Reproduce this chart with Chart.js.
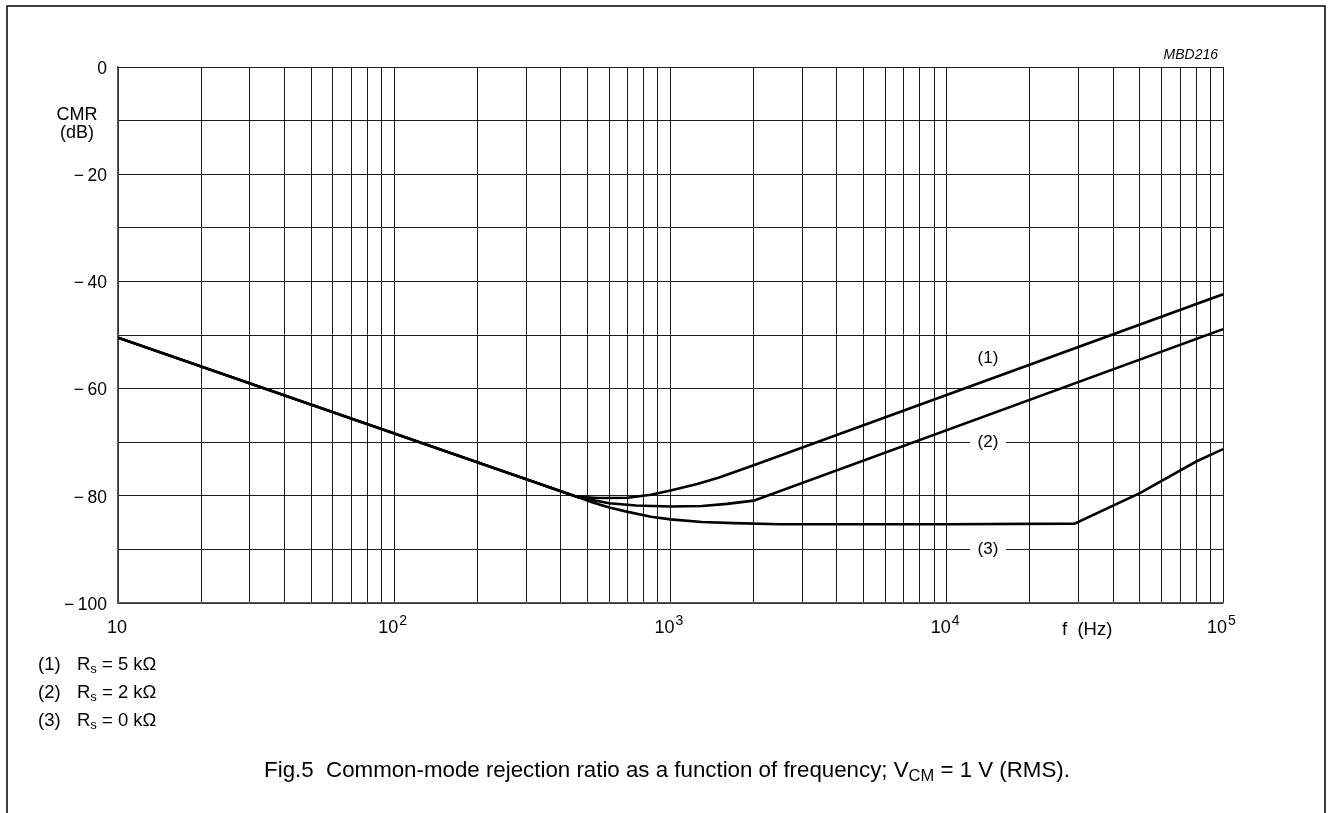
<!DOCTYPE html>
<html>
<head>
<meta charset="utf-8">
<script src="https://cdn.jsdelivr.net/npm/chart.js@4.4.1/dist/chart.umd.min.js"></script>
<style>
  html, body { margin: 0; padding: 0; background: #fff; }
  #chart { display: block; }
</style>
</head>
<body>
<canvas id="chart" width="1329" height="813"></canvas>
<script>
// values: f in Hz, CMR in dB
const freq1 = [10, 460, 550, 700, 850, 1000, 1250, 1500, 2000, 100000];
const cmr1 = [-50.5, -80.2, -80.4, -80.35, -79.8, -79.0, -77.8, -76.6, -74.3, -42.4];

const freq2 = [10, 460, 520, 600, 750, 1000, 1300, 1600, 2000, 100000];
const cmr2 = [-50.5, -80.2, -80.8, -81.4, -81.8, -82.0, -81.9, -81.5, -80.9, -48.9];

const freq3 = [10, 460, 520, 600, 700, 850, 1000, 1300, 1700, 2500, 10000, 29000, 50000, 80000, 100000];
const cmr3 = [-50.5, -80.2, -81.2, -82.2, -83.0, -83.9, -84.4, -84.9, -85.1, -85.3, -85.3, -85.2, -79.5, -73.6, -71.3];

const decades = [10, 100, 1000, 10000, 100000];
const multipliers = [1, 2, 3, 4, 5, 6, 7, 8, 9];
const curveNames = ['(1)', '(2)', '(3)'];
const notes = ['5', '2', '0'];

const FONT = '"Liberation Sans", Arial, Helvetica, sans-serif';

function points(fs, vs) {
    return fs.map((f, i) => ({ x: f, y: vs[i] }));
}

// grid values: every 1..9 times each decade, plus the last decade
const gridValues = [];
decades.slice(0, -1).forEach(d => multipliers.forEach(m => gridValues.push(d * m)));
gridValues.push(decades[decades.length - 1]);

function lineSet(fs, vs) {
    return {
        data: points(fs, vs),
        showLine: true,
        borderColor: '#000',
        borderWidth: 2.6,
        pointRadius: 0,
        tension: 0,
        fill: false
    };
}

const textPlugin = {
    id: 'figText',
    afterDraw(chart) {
        const ctx = chart.ctx;
        const xs = chart.scales.x;
        const ys = chart.scales.y;
        ctx.save();
        ctx.fillStyle = '#000';
        ctx.strokeStyle = '#000';

        // frame
        ctx.lineWidth = 1.5;
        ctx.beginPath();
        ctx.moveTo(7, 813);
        ctx.lineTo(7, 6);
        ctx.lineTo(1325, 6);
        ctx.lineTo(1325, 813);
        ctx.stroke();

        // code
        ctx.font = 'italic 14px ' + FONT;
        ctx.textAlign = 'right';
        ctx.textBaseline = 'middle';
        ctx.fillText('MBD216', 1218, 55);

        // y labels
        ctx.font = '17.5px ' + FONT;
        ctx.textAlign = 'right';
        ys.ticks.forEach(t => {
            if (t.value % 20 !== 0) return;
            const y = ys.getPixelForValue(t.value);
            const txt = t.value === 0 ? '0' : '\u2212\u2009' + Math.abs(t.value);
            ctx.fillText(txt, 107, y + 2);
        });
        ctx.font = '18px ' + FONT;
        ctx.textAlign = 'center';
        ctx.fillText('CMR', 77, 115);
        ctx.fillText('(dB)', 77, 133);

        // x labels
        decades.forEach((d, i) => {
            const x = xs.getPixelForValue(d);
            if (i === 0) {
                ctx.font = '18px ' + FONT;
                ctx.textAlign = 'center';
                ctx.fillText('10', x - 1, 628);
                return;
            }
            ctx.font = '18px ' + FONT;
            ctx.textAlign = 'right';
            ctx.fillText('10', x + 4, 628);
            ctx.font = '14px ' + FONT;
            ctx.textAlign = 'left';
            ctx.fillText(String(Math.round(Math.log10(d))), x + 5, 621);
        });
        ctx.font = '18.5px ' + FONT;
        ctx.textAlign = 'left';
        ctx.fillText('f  (Hz)', 1062, 630);

        // curve labels
        ctx.font = '17px ' + FONT;
        const lx = xs.getPixelForValue(14100);
        const labelY = [-54.3, -70, -90];
        labelY.forEach((v, i) => {
            const y = ys.getPixelForValue(v);
            if (i > 0) {
                ctx.fillStyle = '#fff';
                ctx.fillRect(lx - 18, y - 3, 36, 6);
                ctx.fillStyle = '#000';
            }
            ctx.textAlign = 'center';
            ctx.fillText(curveNames[i], lx, y);
        });

        // notes
        notes.forEach((n, i) => {
            const y = 665 + i * 28;
            ctx.font = '18.5px ' + FONT;
            ctx.textAlign = 'left';
            ctx.fillText('(' + (i + 1) + ')', 38, y);
            ctx.fillText('R', 77, y);
            let x = 77 + ctx.measureText('R').width;
            ctx.font = '13px ' + FONT;
            ctx.fillText('s', x, y + 4);
            x += ctx.measureText('s').width;
            ctx.font = '18.5px ' + FONT;
            ctx.fillText(' = ' + n + ' k\u03A9', x, y);
        });

        // caption
        const parts = [
            ['Fig.5  Common-mode rejection ratio as a function of frequency; V', 22.3, 0],
            ['CM', 16.5, 5],
            [' = 1 V (RMS).', 22.3, 0]
        ];
        let total = 0;
        parts.forEach(p => { ctx.font = p[1] + 'px ' + FONT; total += ctx.measureText(p[0]).width; });
        let cx = 667 - total / 2;
        ctx.textAlign = 'left';
        parts.forEach(p => {
            ctx.font = p[1] + 'px ' + FONT;
            ctx.fillText(p[0], cx, 771 + p[2]);
            cx += ctx.measureText(p[0]).width;
        });
        ctx.restore();
    }
};

new Chart('chart', {
    type: 'scatter',
    data: {
        datasets: [lineSet(freq1, cmr1), lineSet(freq2, cmr2), lineSet(freq3, cmr3)]
    },
    options: {
        responsive: false,
        animation: false,
        devicePixelRatio: 1,
        layout: { padding: { top: 67, right: 106, left: 0, bottom: 0 } },
        plugins: { legend: { display: false }, tooltip: { enabled: false } },
        scales: {
            x: {
                type: 'logarithmic',
                min: 10,
                max: 100000,
                afterBuildTicks: scale => { scale.ticks = gridValues.map(v => ({ value: v })); },
                afterFit: scale => { scale.height = 210; },
                ticks: { display: false, autoSkip: false },
                grid: { color: '#1a1a1a', lineWidth: 1, drawTicks: false },
                border: { color: '#555', width: 1.5 }
            },
            y: {
                min: -100,
                max: 0,
                afterFit: scale => { scale.width = 118; },
                ticks: { display: false, stepSize: 10, autoSkip: false },
                grid: { color: '#1a1a1a', lineWidth: 1, drawTicks: false },
                border: { color: '#555', width: 1.5 }
            }
        }
    },
    plugins: [textPlugin]
});
</script>
</body>
</html>
